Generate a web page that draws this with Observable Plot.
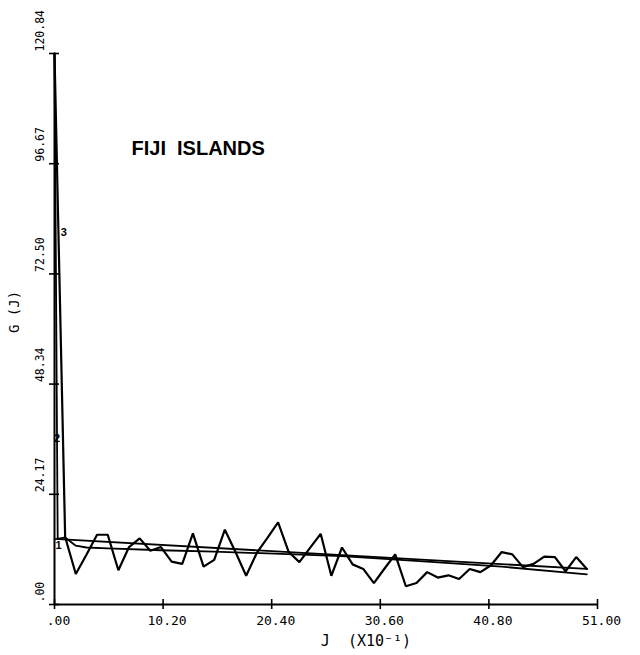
<!DOCTYPE html>
<html><head><meta charset="utf-8">
<script src="https://cdn.jsdelivr.net/npm/d3@7"></script>
<script src="https://cdn.jsdelivr.net/npm/@observablehq/plot@0.6"></script>
<style>body{margin:0;background:#fff}#chart svg{display:block}</style>
</head><body><div id="chart"></div>
<script>
const title = "FIJI  ISLANDS";
const xLabel = "J  (X10⁻¹)";
const yLabel = "G (J)";
const xTicks = [0, 10.2, 20.4, 30.6, 40.8, 51.0];
const xTickLabels = [".00", "10.20", "20.40", "30.60", "40.80", "51.00"];
const yTicks = [0, 24.17, 48.34, 72.50, 96.67, 120.84];
const yTickLabels = [".00", "24.17", "48.34", "72.50", "96.67", "120.84"];

// observed series G(J)
const jValues = [0,1,2,3,4,5,6,7,8,9,10,11,12,13,14,15,16,17,18,19,20,21,22,23,24,25,26,27,28,29,30,31,32,33,34,35,36,37,38,39,40,41,42,43,44,45,46,47,48,49,50];
const gValues = [120.84,14.8,6.7,10.9,15.3,15.3,7.5,12.6,14.5,11.8,12.6,9.4,8.9,15.6,8.3,9.8,16.4,11.5,6.3,11.3,14.6,18.0,11.5,9.3,12.4,15.5,6.3,12.5,8.8,7.8,4.7,7.9,11.0,4.0,4.7,7.1,5.9,6.4,5.6,7.8,7.1,8.6,11.5,11.0,8.2,8.9,10.5,10.4,7.3,10.4,7.8];

// straight (linear) fit
const linJ = [0, 50];
const linG = [14.4, 7.8];

// smooth decaying fit
const fitJ = [0, 0.3, 1, 2, 3, 5, 10, 15, 20, 27, 35, 42, 50];
const fitG = [120.84, 14.4, 14.7, 12.9, 12.5, 12.3, 11.9, 11.6, 11.2, 10.6, 9.4, 8.3, 6.6];

// curve tag symbols
const tagText = ["1", "2", "3"];
const tagJ = [0.38, 0.25, 0.87];
const tagG = [12.9, 36.4, 81.6];

const obs = jValues.map((j, i) => ({j, g: gValues[i]}));
const lin = linJ.map((j, i) => ({j, g: linG[i]}));
const fit = fitJ.map((j, i) => ({j, g: fitG[i]}));
const tags = tagText.map((t, i) => ({t, j: tagJ[i], g: tagG[i]}));
const xt = xTicks.map((v, i) => ({v, s: xTickLabels[i]}));
const yt = yTicks.map((v, i) => ({v, s: yTickLabels[i]}));

const mono = "DejaVu Sans Mono";
const chart = Plot.plot({
  width: 640, height: 655,
  marginLeft: 54, marginRight: 43, marginTop: 53, marginBottom: 51,
  x: {domain: [0, 51], axis: null},
  y: {domain: [0, 120.84], axis: null},
  style: {background: "#fff", color: "#000", overflow: "visible"},
  marks: [
    Plot.ruleX([0], {y1: 0, y2: 120.84, stroke: "#000", strokeWidth: 2}),
    Plot.ruleY([0], {x1: 0, x2: 51, stroke: "#000", strokeWidth: 2}),
    Plot.ruleX(xt, {x: "v", y1: 0, y2: 0, insetTop: -5, insetBottom: -5, stroke: "#000", strokeWidth: 1.6}),
    Plot.ruleY(yt, {y: "v", x1: 0, x2: 0, insetLeft: -5, insetRight: -5, stroke: "#000", strokeWidth: 1.6}),
    Plot.text(xt, {x: "v", y: 0, text: "s", dy: 16, dx: 4, fontFamily: mono, fontSize: 13, fill: "#000"}),
    Plot.text(yt, {x: 0, y: "v", text: "s", rotate: -90, textAnchor: "start", dx: -14, dy: -2, fontFamily: mono, fontSize: 11.5, fill: "#000"}),
    Plot.line(lin, {x: "j", y: "g", stroke: "#000", strokeWidth: 1.8}),
    Plot.line(fit, {x: "j", y: "g", stroke: "#000", strokeWidth: 1.8}),
    Plot.line(obs, {x: "j", y: "g", stroke: "#000", strokeWidth: 2.2, strokeLinejoin: "miter"}),
    Plot.text(tags, {x: "j", y: "g", text: "t", fontFamily: "Liberation Sans", fontWeight: "bold", fontSize: 11, fill: "#000"}),
    Plot.text([title], {frameAnchor: "top-left", dx: 77, dy: 87, textAnchor: "start", fontFamily: "Liberation Sans", fontWeight: "bold", fontSize: 20, fill: "#000"}),
    Plot.text([xLabel], {frameAnchor: "bottom", dx: 40, dy: 41, fontFamily: mono, fontSize: 15, fill: "#000"}),
    Plot.text([yLabel], {frameAnchor: "left", rotate: -90, dx: -40, dy: 4, fontFamily: mono, fontSize: 14, fill: "#000"})
  ]
});
document.getElementById("chart").append(chart);
</script>
</body></html>
